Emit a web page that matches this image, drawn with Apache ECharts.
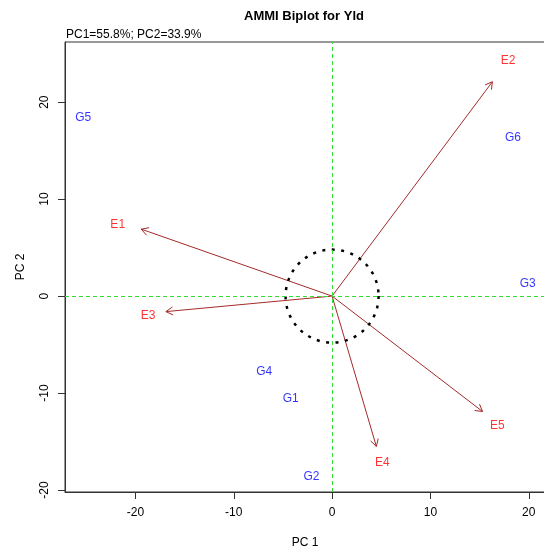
<!DOCTYPE html>
<html><head><meta charset="utf-8">
<script src="https://cdn.jsdelivr.net/npm/echarts@6/dist/echarts.min.js"></script>
<style>html,body{margin:0;padding:0;background:#fff}#c{width:544px;height:550px}</style>
</head><body><div id="c"></div>
<script>
const genNames = ['G1','G2','G3','G4','G5','G6'];
const genPC1 = [-4.2,-2.1,19.9,-6.9,-25.3,18.4];
const genPC2 = [-10.6,-18.6,1.3,-7.8,18.4,16.3];
const envNames = ['E1','E2','E3','E4','E5'];
const envPC1 = [-21.8,17.9,-18.7,5.1,16.8];
const envPC2 = [7.4,24.3,-2.0,-17.2,-13.4];
const arrowPC1 = [-19.4,16.3,-16.9,4.5,15.3];
const arrowPC2 = [6.9,22.1,-1.6,-15.5,-11.9];
const xTicks = [-20,-10,0,10,20];
const yTicks = [-20,-10,0,10,20];
const circleRadius = [4.73];
const titleText = 'AMMI Biplot for Yld';
const subText = 'PC1=55.8%; PC2=33.9%';

const FF = '"Liberation Sans", Arial, sans-serif';
const chart = echarts.init(document.getElementById('c'), null, {renderer:'canvas'});
const brown = '#a52a2a';

const option = {
  animation: false,
  backgroundColor: '#fff',
  grid: {left: 65, top: 42, right: -1, bottom: 58, show: true, borderColor: '#333', borderWidth: 1, containLabel: false, outerBoundsMode: 'none'},
  graphic: [
    {type:'text', x: 304, y: 16, style:{text: titleText, font: 'bold 13px ' + FF, fill:'#000', textAlign:'center', textVerticalAlign:'middle'}, z: 100},
    {type:'text', x: 66, y: 29, style:{text: subText, font: '12px ' + FF, fill:'#000'}, z: 100}
  ],
  xAxis: {
    type:'value', min:-27.16, max:21.65,
    name:'PC 1', nameLocation:'middle', nameGap: 45,
    nameTextStyle:{fontFamily:FF, fontSize:12, color:'#000'},
    axisLine:{show:true, onZero:false, lineStyle:{color:'#333', width:1}},
    axisTick:{show:true, inside:false, length:7, customValues: xTicks, lineStyle:{color:'#333'}},
    axisLabel:{show:true, customValues: xTicks, margin:15, fontFamily:FF, fontSize:12, color:'#000'},
    splitLine:{show:false}
  },
  yAxis: {
    type:'value', min:-20.2, max:26.2,
    name:'PC 2', nameLocation:'middle', nameGap: 38, nameRotate: 90,
    nameTextStyle:{fontFamily:FF, fontSize:12, color:'#000'},
    axisLine:{show:true, onZero:false, lineStyle:{color:'#333', width:1}},
    axisTick:{show:true, inside:false, length:7, customValues: yTicks, lineStyle:{color:'#333'}},
    axisLabel:{show:true, customValues: yTicks, rotate:90, margin:14, fontFamily:FF, fontSize:12, color:'#000'},
    splitLine:{show:false}
  },
  series: [
    {
      type:'scatter', data:[], silent:true,
      markLine:{silent:true, symbol:['none','none'], label:{show:false},
        lineStyle:{color:'#33dd33', type:[4,3], width:1},
        data:[{xAxis:0},{yAxis:0}]}
    },
    {
      type:'custom', silent:true, z:3,
      data: arrowPC1.map((x,i)=>[x, arrowPC2[i]]),
      renderItem: function(params, api){
        const o = api.coord([0,0]);
        const t = api.coord([api.value(0), api.value(1)]);
        const ang = Math.atan2(t[1]-o[1], t[0]-o[0]);
        const L = 8, a = Math.PI/6;
        const p1 = [t[0]-L*Math.cos(ang-a), t[1]-L*Math.sin(ang-a)];
        const p2 = [t[0]-L*Math.cos(ang+a), t[1]-L*Math.sin(ang+a)];
        return {type:'group', children:[
          {type:'line', shape:{x1:o[0], y1:o[1], x2:t[0], y2:t[1]}, style:{stroke:brown, lineWidth:1}},
          {type:'polyline', shape:{points:[p1,t,p2]}, style:{stroke:brown, fill:null, lineWidth:1}}
        ]};
      }
    },
    {
      type:'custom', silent:true, z:4,
      data: [[0,0]],
      renderItem: function(params, api){
        const c = api.coord([api.value(0), api.value(1)]);
        const r = api.size([circleRadius[0], 0])[0];
        return {type:'circle', shape:{cx:c[0], cy:c[1], r:r}, style:{fill:null, stroke:'#000', lineWidth:2.5, lineDash:[3,6.5]}};
      }
    },
    {
      type:'scatter', silent:true, symbolSize:0, itemStyle:{color:'rgba(0,0,0,0)'},
      data: genNames.map((n,i)=>({name:n, value:[genPC1[i], genPC2[i]]})),
      label:{show:true, position:'inside', formatter:'{b}', color:'#0000ff', fontSize:12, fontFamily:FF}
    },
    {
      type:'scatter', silent:true, symbolSize:0, itemStyle:{color:'rgba(0,0,0,0)'},
      data: envNames.map((n,i)=>({name:n, value:[envPC1[i], envPC2[i]]})),
      label:{show:true, position:'inside', formatter:'{b}', color:'#ff0000', fontSize:12, fontFamily:FF}
    }
  ]
};
chart.setOption(option);
</script>
</body></html>
